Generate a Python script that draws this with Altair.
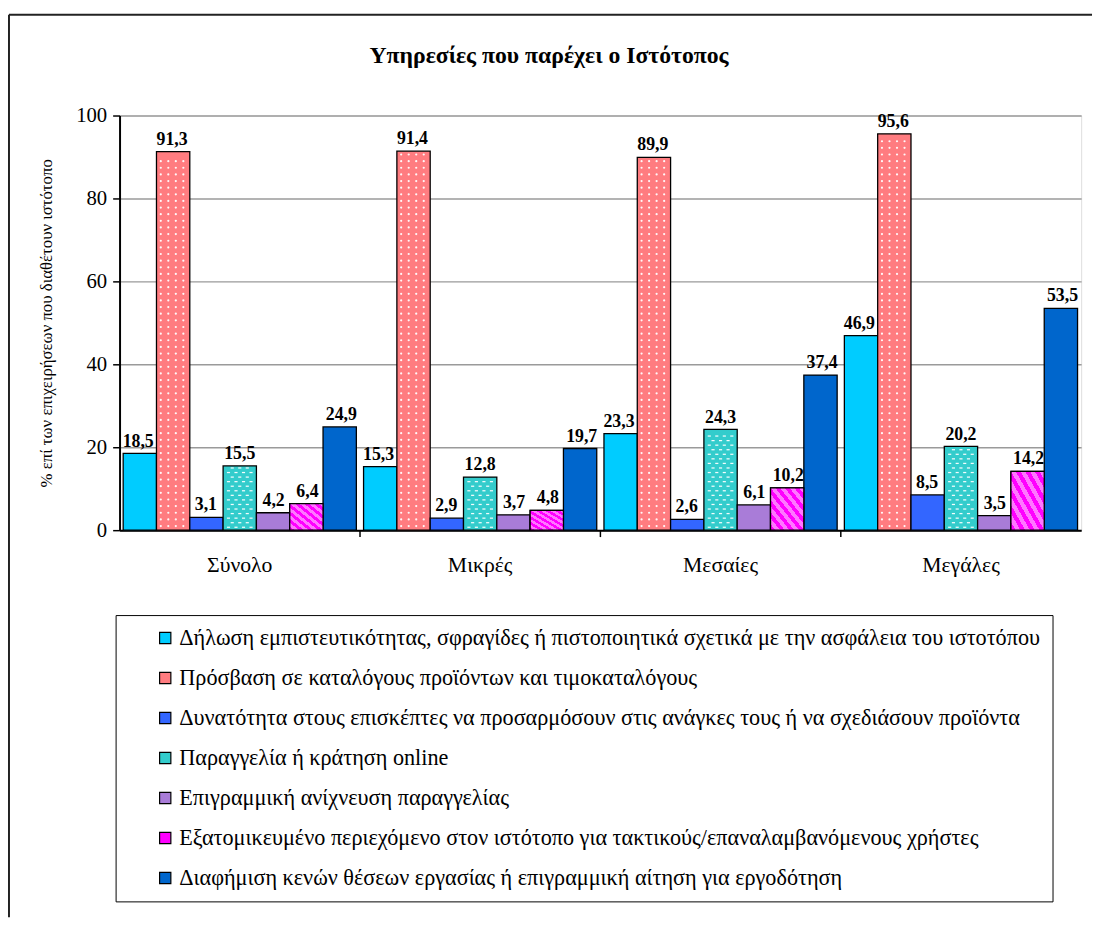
import altair as alt
import pandas as pd

categories = ["Σύνολο", "Μικρές", "Μεσαίες", "Μεγάλες"]
series = [
    "Δήλωση εμπιστευτικότητας, σφραγίδες ή πιστοποιητικά σχετικά με την ασφάλεια του ιστοτόπου",
    "Πρόσβαση σε καταλόγους προϊόντων και τιμοκαταλόγους",
    "Δυνατότητα στους επισκέπτες να προσαρμόσουν στις ανάγκες τους ή να σχεδιάσουν προϊόντα",
    "Παραγγελία ή κράτηση online",
    "Επιγραμμική ανίχνευση παραγγελίας",
    "Εξατομικευμένο περιεχόμενο στον ιστότοπο για τακτικούς/επαναλαμβανόμενους χρήστες",
    "Διαφήμιση κενών θέσεων εργασίας ή επιγραμμική αίτηση για εργοδότηση",
]
s1 = [18.5, 15.3, 23.3, 46.9]
s2 = [91.3, 91.4, 89.9, 95.6]
s3 = [3.1, 2.9, 2.6, 8.5]
s4 = [15.5, 12.8, 24.3, 20.2]
s5 = [4.2, 3.7, 6.1, 3.5]
s6 = [6.4, 4.8, 10.2, 14.2]
s7 = [24.9, 19.7, 37.4, 53.5]
colors = ["#00CCFF", "#FF7C80", "#3366FF", "#33CCCC", "#A97CD8", "#FF00FF", "#0066CC"]

NSLOT = 9
slots = [f"{i}-{j}" for i in range(len(series)) for j in range(NSLOT)]

rows = []
for i, (name, vals) in enumerate(zip(series, [s1, s2, s3, s4, s5, s6, s7])):
    for c, v in zip(categories, vals):
        rows.append({"cat": c, "series": name, "value": v,
                     "slot": f"{i}-{NSLOT // 2}",
                     "label": f"{v:.1f}".replace(".", ",")})
df = pd.DataFrame(rows)

# texture (fill pattern) points for the dotted / dashed series, bounded by each bar's value
tex = []
for c, v in zip(categories, s2):          # white dots on the salmon bars
    y = 1.0
    while y < v - 0.8:
        for j in (1, 3, 5, 7):
            tex.append({"cat": c, "slot": f"1-{j}", "y": y, "kind": "dot"})
        y += 1.6
for c, v in zip(categories, s4):          # white dashes on the teal bars
    y, k = 0.7, 0
    while y < v - 0.5:
        for j in ((1, 3, 5, 7) if k % 2 == 0 else (2, 4, 6)):
            tex.append({"cat": c, "slot": f"3-{j}", "y": y, "kind": "dash"})
        y += 1.1
        k += 1
tex_df = pd.DataFrame(tex)

FONT = "'Liberation Serif', Tinos, 'Times New Roman', 'DejaVu Serif', serif"
W, H = 974, 420

xscale = alt.Scale(domain=categories, paddingInner=0.03, paddingOuter=0.015)
xoff = alt.XOffset("series:N", sort=series,
                   scale=alt.Scale(domain=series, paddingInner=0, paddingOuter=0))
xoff_slot = alt.XOffset("slot:N", scale=alt.Scale(domain=slots, paddingInner=0, paddingOuter=0))

base = alt.Chart(df)
bars = base.mark_bar(stroke="black", strokeWidth=1.3).encode(
    x=alt.X("cat:N", scale=xscale, sort=categories,
            axis=alt.Axis(title=None, labelFont=FONT, labelFontSize=22, labelAngle=0,
                          labelColor="black", ticks=False, labelPadding=25,
                          domainColor="black", domainWidth=2)),
    xOffset=xoff,
    y=alt.Y("value:Q", scale=alt.Scale(domain=[0, 100]),
            axis=alt.Axis(values=[0, 20, 40, 60, 80, 100], format="d",
                          title="% επί των επιχειρήσεων που διαθέτουν ιστότοπο",
                          titleFont=FONT, titleFontSize=17, titleFontWeight="normal",
                          titleColor="black", titlePadding=20,
                          labelFont=FONT, labelFontSize=21, labelColor="black",
                          labelPadding=6, tickSize=7, tickColor="black", tickWidth=1.5,
                          domainColor="black", domainWidth=2,
                          gridColor="#9a9a9a", gridWidth=1.5)),
    color=alt.Color("series:N", scale=alt.Scale(domain=series, range=colors),
                    legend=alt.Legend(orient="none", legendX=-4, legendY=506, title=None,
                                      symbolType="square", symbolSize=130,
                                      symbolStrokeColor="black", symbolStrokeWidth=1.2,
                                      labelFont=FONT, labelFontSize=22.5, labelColor="black",
                                      labelLimit=0, labelOffset=3, rowPadding=17.5,
                                      padding=12, symbolOffset=27,
                                      labelExpr="datum.index == 0 ? datum.label + '\u00a0\u00a0\u00a0\u00a0\u00a0' : datum.label",
                                      strokeColor="black", fillColor="white")),
)

stripe_stops = []
n = 14
for k in range(n):
    col = "#FF00FF" if k % 2 == 0 else "#FF77FF"
    stripe_stops.append(alt.GradientStop(offset=k / n, color=col))
    stripe_stops.append(alt.GradientStop(offset=(k + 1) / n, color=col))
stripes = alt.Chart(df).transform_filter(
    alt.datum.series == series[5]
).mark_bar(stroke="black", strokeWidth=1.3,
           color=alt.LinearGradient(gradient="linear", stops=stripe_stops,
                                    x1=0, y1=1, x2=1, y2=0)).encode(
    x=alt.X("cat:N", scale=xscale, sort=categories),
    xOffset=xoff,
    y=alt.Y("value:Q"),
)

dots = alt.Chart(tex_df).transform_filter(alt.datum.kind == "dot").mark_point(
    shape="circle", filled=True, size=5, color="white", opacity=0.95).encode(
    x=alt.X("cat:N", scale=xscale, sort=categories),
    xOffset=xoff_slot,
    y=alt.Y("y:Q"),
)
dashes = alt.Chart(tex_df).transform_filter(alt.datum.kind == "dash").mark_point(
    shape="M-1,-0.4H1V0.4H-1Z", filled=True, size=10, color="white", opacity=0.95).encode(
    x=alt.X("cat:N", scale=xscale, sort=categories),
    xOffset=xoff_slot,
    y=alt.Y("y:Q"),
)

labels = base.mark_text(font=FONT, fontSize=18, fontWeight="bold", baseline="bottom",
                        dy=-3, color="black").encode(
    x=alt.X("cat:N", scale=xscale, sort=categories),
    xOffset=xoff_slot,
    y=alt.Y("value:Q"),
    text="label:N",
)

ticks_df = pd.DataFrame({"cat": categories[1:]})
xticks = alt.Chart(ticks_df).mark_rule(color="black", strokeWidth=1.5, xOffset=-3.6).encode(
    x=alt.X("cat:N", scale=xscale, sort=categories, bandPosition=0),
    y=alt.value(H), y2=alt.value(H + 7),
)

frame_df = pd.DataFrame({"k": [0]})
frame_top = alt.Chart(frame_df).mark_rule(color="#222222", strokeWidth=2).encode(
    x=alt.value(-112), x2=alt.value(985), y=alt.value(-102))
frame_left = alt.Chart(frame_df).mark_rule(color="#222222", strokeWidth=2).encode(
    x=alt.value(-112), y=alt.value(-102), y2=alt.value(812))

chart = alt.layer(frame_top, frame_left, bars, stripes, dots, dashes, labels, xticks).resolve_scale(
    xOffset="independent"
).properties(
    width=W, height=H,
    padding={"left": 0, "top": 0, "right": 0, "bottom": 0},
    title=alt.TitleParams("Υπηρεσίες που παρέχει ο Ιστότοπος", font=FONT, fontSize=24,
                          fontWeight="bold", color="black", anchor="middle",
                          frame="group", dx=-52, offset=-55),
).configure_view(fill="#FAEFD6", stroke="#9a9a9a", strokeWidth=1.5
).configure(background="white")

chart.save("out.html", embed_options={"renderer": "svg", "actions": False})
